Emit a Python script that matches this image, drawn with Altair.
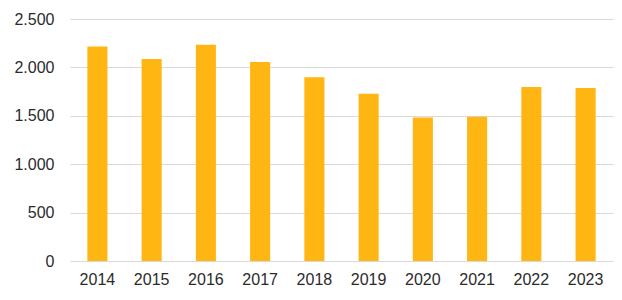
import altair as alt
import pandas as pd

years = ["2014", "2015", "2016", "2017", "2018", "2019", "2020", "2021", "2022", "2023"]
values = [2217, 2086, 2234, 2055, 1897, 1728, 1483, 1490, 1797, 1786]

df = pd.DataFrame({"Jahr": years, "Wert": values})

chart = alt.Chart(df).mark_bar(color="#FFB612").encode(
    x=alt.X("Jahr:N", sort=years, title=None,
            scale=alt.Scale(paddingInner=0.63, paddingOuter=0.32),
            axis=alt.Axis(labelAngle=0, labelFontSize=16, labelColor="#2b2b2b",
                          labelFont="Liberation Sans", ticks=False, domain=False,
                          labelPadding=10, grid=False)),
    y=alt.Y("Wert:Q", title=None,
            scale=alt.Scale(domain=[0, 2500]),
            axis=alt.Axis(values=[0, 500, 1000, 1500, 2000, 2500],
                          labelExpr="replace(format(datum.value, ','), ',', '.')",
                          labelFontSize=16, labelColor="#2b2b2b",
                          labelFont="Liberation Sans", ticks=False, domain=False,
                          labelPadding=16, gridColor="#D9D9D9", gridWidth=1.2)),
).properties(
    width=543, height=242,
    autosize=alt.AutoSizeParams(type="none"),
    padding={"left": 70, "top": 19, "right": 9, "bottom": 39},
).configure_view(stroke=None)

chart.save("out.html", embed_options={"renderer": "svg", "actions": False})
